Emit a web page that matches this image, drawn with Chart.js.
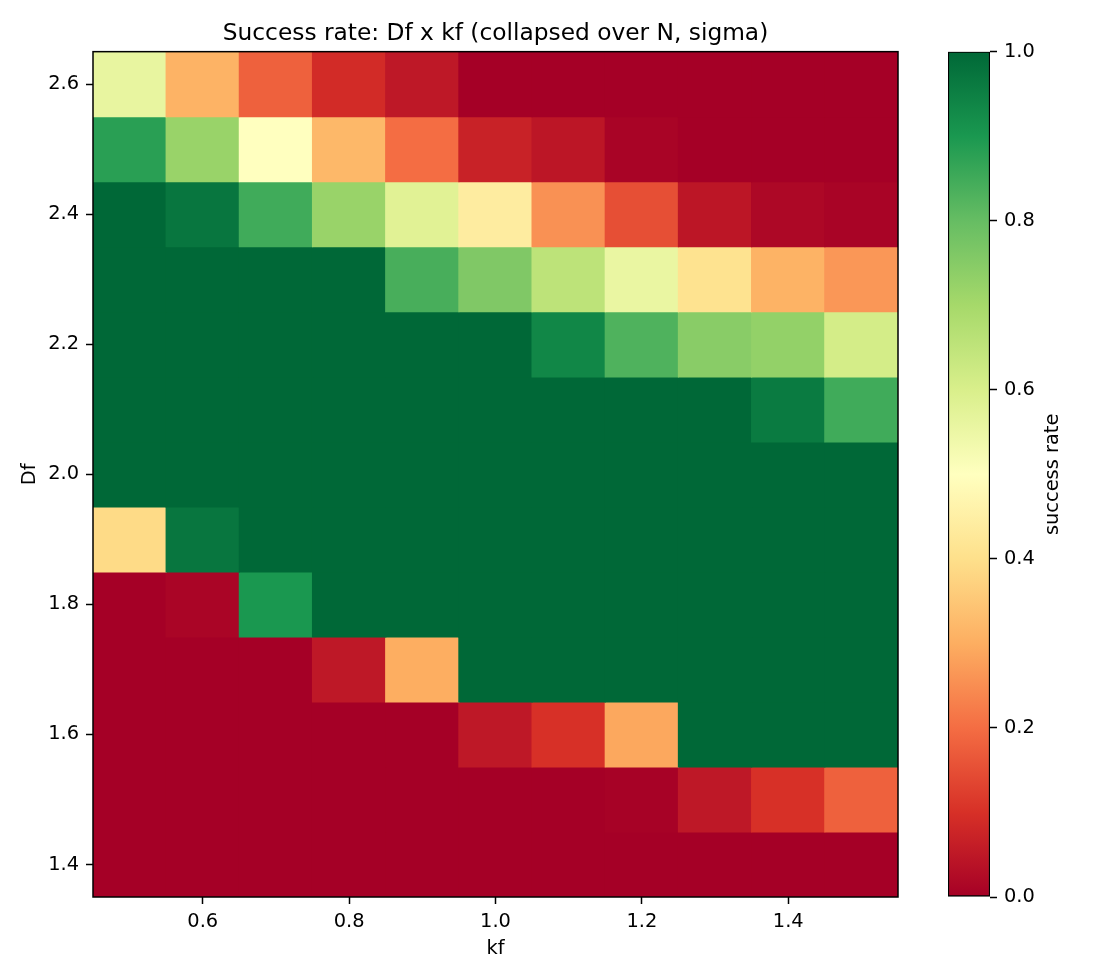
<!DOCTYPE html>
<html>
<head>
<meta charset="utf-8">
<script src="https://cdn.jsdelivr.net/npm/chart.js@4.4.0/dist/chart.umd.min.js"></script>
<style>
  html, body { margin: 0; padding: 0; background: #fff; }
  #wrap { position: relative; width: 1120px; height: 980px; }
  #heat { position: absolute; left: 0; top: 0; }
  #cbar { position: absolute; left: 900px; top: 0; }
</style>
</head>
<body>
<div id="wrap">
  <canvas id="heat" width="990" height="980"></canvas>
  <canvas id="cbar" width="220" height="980"></canvas>
</div>
<script>
// kf along x, Df along y
const kfValues = [0.5, 0.6, 0.7, 0.8, 0.9, 1.0, 1.1, 1.2, 1.3, 1.4, 1.5];
const dfValues = [1.4, 1.5, 1.6, 1.7, 1.8, 1.9, 2.0, 2.1, 2.2, 2.3, 2.4, 2.5, 2.6];

// success rate per Df row, one value per kf column
const rateDf14 = [0, 0, 0, 0, 0, 0, 0, 0, 0, 0, 0];
const rateDf15 = [0, 0, 0, 0, 0, 0, 0, 0.004, 0.05, 0.1, 0.18];
const rateDf16 = [0, 0, 0, 0, 0, 0.05, 0.1, 0.29, 1, 1, 1];
const rateDf17 = [0, 0, 0, 0.05, 0.3, 1, 1, 1, 1, 1, 1];
const rateDf18 = [0, 0.01, 0.9, 1, 1, 1, 1, 1, 1, 1, 1];
const rateDf19 = [0.39, 0.97, 1, 1, 1, 1, 1, 1, 1, 1, 1];
const rateDf20 = [1, 1, 1, 1, 1, 1, 1, 1, 1, 1, 1];
const rateDf21 = [1, 1, 1, 1, 1, 1, 1, 1, 1, 0.96, 0.85];
const rateDf22 = [1, 1, 1, 1, 1, 1, 0.935, 0.83, 0.745, 0.73, 0.61];
const rateDf23 = [1, 1, 1, 1, 0.84, 0.76, 0.655, 0.555, 0.41, 0.31, 0.265];
const rateDf24 = [1, 0.97, 0.85, 0.72, 0.58, 0.44, 0.255, 0.15, 0.046, 0.016, 0.008];
const rateDf25 = [0.88, 0.72, 0.5, 0.32, 0.2, 0.07, 0.046, 0.008, 0, 0, 0];
const rateDf26 = [0.56, 0.31, 0.18, 0.09, 0.05, 0, 0, 0, 0, 0, 0];
const rateRows = [rateDf14, rateDf15, rateDf16, rateDf17, rateDf18, rateDf19, rateDf20,
                  rateDf21, rateDf22, rateDf23, rateDf24, rateDf25, rateDf26];

const kfTicks = [0.6, 0.8, 1.0, 1.2, 1.4];
const dfTicks = [1.4, 1.6, 1.8, 2.0, 2.2, 2.4, 2.6];
const rateTicks = [0, 0.2, 0.4, 0.6, 0.8, 1.0];

// RdYlGn colormap stops
const rdylgn = ['#a50026', '#d73027', '#f46d43', '#fdae61', '#fee08b', '#ffffbf',
                '#d9ef8b', '#a6d96a', '#66bd63', '#1a9850', '#006837'];

function hexRgb(h) {
    return [parseInt(h.slice(1, 3), 16), parseInt(h.slice(3, 5), 16), parseInt(h.slice(5, 7), 16)];
}

function rateColor(v) {
    const t = Math.max(0, Math.min(1, v)) * (rdylgn.length - 1);
    const i = Math.min(Math.floor(t), rdylgn.length - 2);
    const f = t - i;
    const a = hexRgb(rdylgn[i]);
    const b = hexRgb(rdylgn[i + 1]);
    const c = a.map((x, k) => Math.round(x + (b[k] - x) * f));
    return `rgb(${c[0]},${c[1]},${c[2]})`;
}

Chart.defaults.font.family = "'DejaVu Sans', sans-serif";
Chart.defaults.color = '#000';

const halfKf = (kfValues[1] - kfValues[0]) / 2;
const halfDf = (dfValues[1] - dfValues[0]) / 2;

const cells = [];
rateRows.forEach((row, i) => {
    row.forEach((rate, j) => {
        cells.push({ x: kfValues[j], y: [dfValues[i] - halfDf, dfValues[i] + halfDf], v: rate });
    });
});

const tickFont = { size: 19.4 };
const axisGrid = {
    display: true,
    offset: false,
    drawOnChartArea: false,
    drawTicks: true,
    tickLength: 7,
    tickWidth: 1.5,
    tickColor: '#000'
};

const frame = {
    id: 'frame',
    afterDatasetsDraw(chart) {
        const { ctx, chartArea: a } = chart;
        ctx.save();
        ctx.strokeStyle = '#000';
        ctx.lineWidth = 1.5;
        ctx.strokeRect(a.left, a.top, a.right - a.left, a.bottom - a.top);
        ctx.restore();
    }
};

new Chart(document.getElementById('heat'), {
    type: 'bar',
    data: {
        datasets: [{
            data: cells,
            backgroundColor: (ctx) => ctx.raw ? rateColor(ctx.raw.v) : '#000',
            borderWidth: 0,
            inflateAmount: 0.6,
            barPercentage: 1,
            categoryPercentage: 1
        }]
    },
    options: {
        responsive: false,
        animation: false,
        events: [],
        layout: { padding: { left: 0, right: 92, top: 0, bottom: 0 } },
        plugins: {
            legend: { display: false },
            tooltip: { enabled: false },
            title: {
                display: true,
                fullSize: false,
                text: 'Success rate: Df x kf (collapsed over N, sigma)',
                font: { size: 23.3, weight: 'normal' },
                color: '#000',
                padding: { top: 20, bottom: 3.7 }
            }
        },
        scales: {
            x: {
                type: 'linear',
                min: kfValues[0] - halfKf,
                max: kfValues[kfValues.length - 1] + halfKf,
                offset: false,
                afterBuildTicks: (scale) => { scale.ticks = kfTicks.map(v => ({ value: v })); },
                afterFit: (scale) => { scale.height = 83; },
                ticks: { font: tickFont, padding: 6, maxRotation: 0, callback: (v) => Number(v).toFixed(1) },
                grid: axisGrid,
                border: { display: false },
                title: { display: true, text: 'kf', font: tickFont, padding: { top: 0, bottom: 19.5 } }
            },
            y: {
                type: 'linear',
                min: dfValues[0] - halfDf,
                max: dfValues[dfValues.length - 1] + halfDf,
                afterBuildTicks: (scale) => { scale.ticks = dfTicks.map(v => ({ value: v })); },
                afterFit: (scale) => { scale.width = 93; },
                ticks: { font: tickFont, padding: 7, callback: (v) => Number(v).toFixed(1) },
                grid: axisGrid,
                border: { display: false },
                title: { display: true, text: 'Df', font: tickFont, padding: { top: 18.3, bottom: 0 } }
            }
        }
    },
    plugins: [frame]
});

const cbarLabel = {
    id: 'cbarLabel',
    afterDraw(chart) {
        const { ctx, chartArea: a } = chart;
        const s = chart.scales.y;
        ctx.save();
        ctx.translate(s.right - 67, (a.top + a.bottom) / 2);
        ctx.rotate(-Math.PI / 2);
        ctx.font = "19.4px 'DejaVu Sans', sans-serif";
        ctx.fillStyle = '#000';
        ctx.textAlign = 'center';
        ctx.textBaseline = 'middle';
        ctx.fillText('success rate', 0, 0);
        ctx.restore();
    }
};

new Chart(document.getElementById('cbar'), {
    type: 'bar',
    data: {
        labels: ['success rate'],
        datasets: [{
            data: [[rateTicks[0], rateTicks[rateTicks.length - 1]]],
            backgroundColor: (ctx) => {
                const a = ctx.chart.chartArea;
                if (!a) return rdylgn[0];
                const g = ctx.chart.ctx.createLinearGradient(0, a.bottom, 0, a.top);
                rdylgn.forEach((c, i) => g.addColorStop(i / (rdylgn.length - 1), c));
                return g;
            },
            borderColor: '#000',
            borderWidth: 1.5,
            borderSkipped: false,
            barPercentage: 1,
            categoryPercentage: 1
        }]
    },
    options: {
        responsive: false,
        animation: false,
        events: [],
        layout: { padding: { left: 48, right: 0, top: 51.7, bottom: 83 } },
        plugins: { legend: { display: false }, tooltip: { enabled: false } },
        scales: {
            x: { display: false },
            y: {
                position: 'right',
                min: rateTicks[0],
                max: rateTicks[rateTicks.length - 1],
                afterBuildTicks: (scale) => { scale.ticks = rateTicks.map(v => ({ value: v })); },
                afterFit: (scale) => { scale.width = 130; },
                ticks: { font: tickFont, padding: 7, callback: (v) => Number(v).toFixed(1) },
                grid: axisGrid,
                border: { display: false }
            }
        }
    },
    plugins: [cbarLabel]
});
</script>
</body>
</html>
